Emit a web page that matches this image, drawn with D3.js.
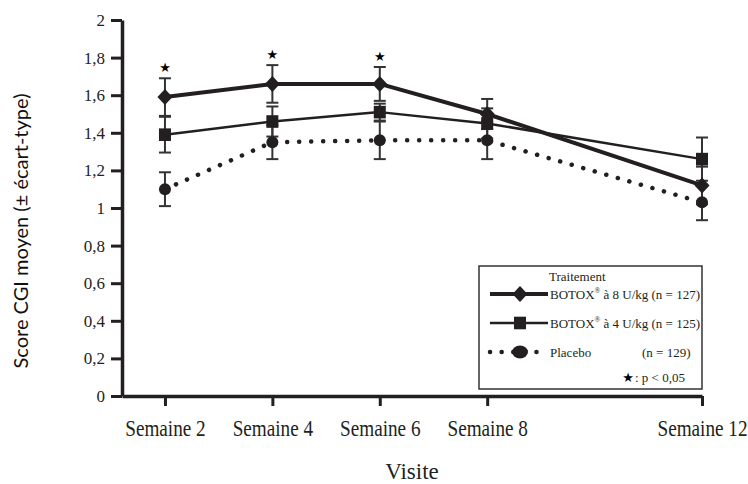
<!DOCTYPE html>
<html>
<head>
<meta charset="utf-8">
<script src="https://cdn.jsdelivr.net/npm/d3@7"></script>
<style>
  body { margin: 0; background: #fff; }
  svg { display: block; }
  .serif { font-family: "Liberation Serif", Tinos, "Times New Roman", Times, "DejaVu Serif", serif; }
</style>
</head>
<body>
<svg id="chart"></svg>
<script>
// visits (weeks) and labels
const weeks = [2, 4, 6, 8, 12];
const weekLabels = ["Semaine 2", "Semaine 4", "Semaine 6", "Semaine 8", "Semaine 12"];

// mean CGI score and standard deviation per group
const botox8 = [1.59, 1.66, 1.66, 1.50, 1.12];
const botox8Sd = [0.10, 0.10, 0.09, 0.08, 0.10];
const botox4 = [1.39, 1.46, 1.51, 1.45, 1.26];
const botox4Sd = [0.095, 0.08, 0.045, 0.08, 0.115];
const placebo = [1.10, 1.35, 1.36, 1.36, 1.03];
const placeboSd = [0.09, 0.09, 0.10, 0.10, 0.095];

// p < 0.05 at these visits
const significant = [true, true, true, false, false];

const yTicks = [0, 0.2, 0.4, 0.6, 0.8, 1, 1.2, 1.4, 1.6, 1.8, 2];

const width = 748;
const height = 484;
const ink = "#231f20";

const svg = d3.select("#chart")
  .attr("width", width)
  .attr("height", height);

const x = d3.scaleLinear().domain([1.2, 12]).range([122, 702]);
const y = d3.scaleLinear().domain([0, 2]).range([396, 20]);

// axes
const fmt = d => d3.format("~g")(d).replace(".", ",");

const yAxis = svg.append("g")
  .attr("transform", `translate(${x(1.2)},0)`)
  .call(d3.axisLeft(y).tickValues(yTicks).tickFormat(fmt).tickSize(11).tickSizeOuter(0).tickPadding(6));

const xAxis = svg.append("g")
  .attr("transform", `translate(0,${y(0)})`)
  .call(d3.axisBottom(x).tickValues(weeks).tickFormat((d, i) => weekLabels[i]).tickSize(10).tickSizeOuter(0).tickPadding(13));

[yAxis, xAxis].forEach(g => {
  g.attr("font-family", null);
  g.select(".domain").attr("stroke", ink).attr("stroke-width", 3.5);
  g.selectAll(".tick line").attr("stroke", ink).attr("stroke-width", 3);
  g.selectAll(".tick text").attr("fill", ink).attr("class", "serif");
});
yAxis.selectAll(".tick text").attr("font-size", 17);
xAxis.selectAll(".tick text").attr("font-size", 24).attr("transform", "scale(0.8,1)");

// axis titles
svg.append("text")
  .attr("transform", `translate(20,231) rotate(-90)`)
  .attr("text-anchor", "middle")
  .attr("dominant-baseline", "central")
  .attr("font-family", "Lato, 'Open Sans', sans-serif")
  .attr("font-size", 20)
  .attr("fill", "#111")
  .text("Score CGI moyen (± écart-type)");

svg.append("text")
  .attr("class", "serif")
  .attr("x", (x(1.2) + x(12)) / 2)
  .attr("y", 479)
  .attr("text-anchor", "middle")
  .attr("font-size", 23)
  .attr("fill", ink)
  .text("Visite");

// series
const series = [
  { name: "placebo", values: placebo, sd: placeboSd, width: 4.5, dash: "0.1 11.9", shape: "circle" },
  { name: "botox4", values: botox4, sd: botox4Sd, width: 2.5, dash: null, shape: "square" },
  { name: "botox8", values: botox8, sd: botox8Sd, width: 4, dash: null, shape: "diamond" }
];

const line = d3.line().x(d => x(d[0])).y(d => y(d[1]));

series.forEach(s => {
  svg.append("path")
    .datum(weeks.map((w, i) => [w, s.values[i]]))
    .attr("fill", "none")
    .attr("stroke", ink)
    .attr("stroke-width", s.width)
    .attr("stroke-linecap", "round")
    .attr("stroke-linejoin", "round")
    .attr("stroke-dasharray", s.dash)
    .attr("d", line);
});

// error bars
series.forEach(s => {
  const g = svg.append("g").attr("stroke", "#333").attr("stroke-width", 2);
  weeks.forEach((w, i) => {
    const cx = x(w), top = y(s.values[i] + s.sd[i]), bot = y(s.values[i] - s.sd[i]);
    g.append("line").attr("x1", cx).attr("x2", cx).attr("y1", top).attr("y2", bot);
    g.append("line").attr("x1", cx - 6).attr("x2", cx + 6).attr("y1", top).attr("y2", top);
    g.append("line").attr("x1", cx - 6).attr("x2", cx + 6).attr("y1", bot).attr("y2", bot);
  });
});

// markers
function marker(g, shape, cx, cy, big) {
  if (shape === "circle") {
    return g.append("ellipse").attr("cx", cx).attr("cy", cy)
      .attr("rx", big ? 8 : 6).attr("ry", big ? 6.5 : 6).attr("fill", ink);
  }
  if (shape === "square") {
    return g.append("rect").attr("x", cx - 6).attr("y", cy - 6.3)
      .attr("width", 12).attr("height", 12.6).attr("fill", ink);
  }
  return g.append("path")
    .attr("d", `M${cx},${cy - 8}L${cx + 7.5},${cy}L${cx},${cy + 8}L${cx - 7.5},${cy}Z`)
    .attr("fill", ink);
}

series.forEach(s => {
  const g = svg.append("g");
  weeks.forEach((w, i) => marker(g, s.shape, x(w), y(s.values[i])));
});

// significance stars
svg.append("g").selectAll("text")
  .data(weeks.filter((w, i) => significant[i]))
  .join("text")
  .attr("x", d => x(d))
  .attr("y", d => { const i = weeks.indexOf(d); return y(botox8[i] + botox8Sd[i]) - 11; })
  .attr("text-anchor", "middle")
  .attr("dominant-baseline", "central")
  .attr("font-family", "'DejaVu Sans', sans-serif")
  .attr("font-size", 13)
  .attr("fill", "#000")
  .text("★");

// legend
const legend = svg.append("g");
legend.append("rect")
  .attr("x", 479).attr("y", 266).attr("width", 223).attr("height", 123)
  .attr("fill", "#fff").attr("stroke", "#333").attr("stroke-width", 1.5);

const legendText = (tx, ty, str) => legend.append("text")
  .attr("class", "serif")
  .attr("x", tx).attr("y", ty)
  .attr("dominant-baseline", "central")
  .attr("font-size", 13)
  .attr("fill", ink)
  .text(str);

legendText(549, 276, "Traitement");

const rows = [
  { s: series[2], y: 294, label: ["BOTOX", "®", " à 8 U/kg (n = 127)"] },
  { s: series[1], y: 323, label: ["BOTOX", "®", " à 4 U/kg (n = 125)"] },
  { s: series[0], y: 352, label: ["Placebo"] }
];

rows.forEach(r => {
  legend.append("line")
    .attr("x1", 490).attr("x2", 548).attr("y1", r.y).attr("y2", r.y)
    .attr("stroke", ink)
    .attr("stroke-width", r.s.width)
    .attr("stroke-linecap", r.s.dash ? "round" : "butt")
    .attr("stroke-dasharray", r.s.dash ? "0.1 11.5" : null);
  marker(legend, r.s.shape, 520, r.y, true);
  const t = legendText(550, r.y, r.label[0]);
  if (r.label.length > 1) {
    t.append("tspan").attr("dy", -4).attr("font-size", 7.5).text(r.label[1]);
    t.append("tspan").attr("dy", 4).text(r.label[2]);
  }
});
legendText(642, 352, "(n = 129)");

legend.append("text")
  .attr("x", 628).attr("y", 377)
  .attr("text-anchor", "middle")
  .attr("dominant-baseline", "central")
  .attr("font-family", "'DejaVu Sans', sans-serif")
  .attr("font-size", 13)
  .attr("fill", "#000")
  .text("★");
legendText(635, 377, ": p < 0,05");
</script>
</body>
</html>
